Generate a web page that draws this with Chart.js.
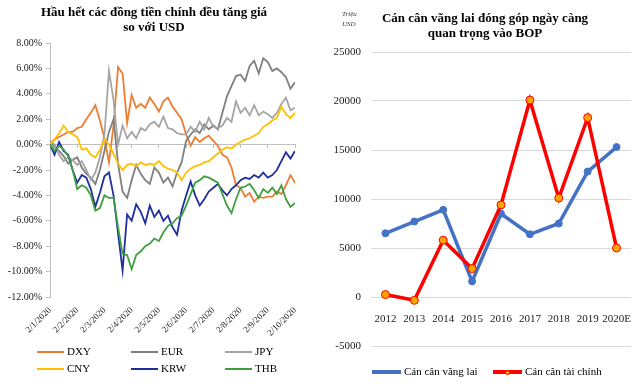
<!DOCTYPE html>
<html><head><meta charset="utf-8">
<script src="https://cdn.jsdelivr.net/npm/chart.js@4.4.1/dist/chart.umd.min.js"></script>
<style>
html,body{margin:0;padding:0;background:#fff;width:640px;height:388px;overflow:hidden;font-family:"Liberation Serif","Times New Roman",serif;}
canvas{position:absolute;top:0}
#c1{left:0}#c2{left:320px}
.title{position:absolute;font-weight:bold;font-size:13px;text-align:center;line-height:15px;color:#000;white-space:nowrap}
.unit{position:absolute;font-style:italic;font-size:7px;line-height:10px;left:342px;top:9px;color:#333}
.leg{position:absolute;font-size:11px;line-height:12px;color:#000;white-space:nowrap}
.sw{position:absolute;}
.dot{position:absolute;border-radius:50%}
</style></head>
<body>
<canvas id="c1" width="320" height="388"></canvas>
<canvas id="c2" width="320" height="388"></canvas>
<div class="title" id="t1" style="left:0;width:308px;top:4px">Hầu hết các đồng tiền chính đều tăng giá<br>so với USD</div>
<div class="title" id="t2" style="left:330px;width:310px;top:10px">Cán cân vãng lai đóng góp ngày càng<br>quan trọng vào BOP</div>
<div class="unit">Triệu<br>USD</div>
<div id="legends"></div>
<script>
// ---- Left chart data (% change vs USD), sampled 6 times per month from 2/1/2020 ----
const tickLabels = ['2/1/2020','2/2/2020','2/3/2020','2/4/2020','2/5/2020','2/6/2020','2/7/2020','2/8/2020','2/9/2020','2/10/2020'];
const samplesPerMonth = 6;
const DXY = [0.0,0.4,0.6,0.8,1.0,1.0,1.3,1.4,2.0,2.5,3.1,1.9,0.5,-1.4,1.5,6.1,5.6,1.7,3.9,2.9,3.2,2.9,3.7,3.2,2.6,3.4,3.7,3.0,2.5,2.0,0.8,-0.1,0.6,0.2,0.5,0.7,0.3,-0.1,-0.8,-1.0,-1.8,-3.2,-3.4,-4.1,-3.8,-4.5,-4.1,-4.2,-4.1,-4.1,-3.7,-3.9,-3.2,-2.4,-3.0];
const EUR = [0.3,-0.2,-0.5,-0.9,-1.5,-1.2,-1.0,-1.8,-2.3,-2.6,-3.1,-2.0,-0.5,1.0,2.0,-1.5,-3.7,-4.2,-2.8,-1.6,-2.3,-2.8,-3.1,-1.8,-2.2,-3.0,-2.6,-3.3,-2.2,-1.4,0.3,0.8,1.2,0.9,1.6,1.2,1.5,1.2,2.5,3.8,4.6,5.4,5.5,5.0,6.2,6.6,5.6,6.8,6.5,5.8,6.0,5.7,5.3,4.4,4.9];
const JPY = [0.3,0.0,-0.8,-1.3,-1.0,-1.2,-1.6,-1.3,-2.0,-2.8,-2.2,-1.0,0.8,5.8,3.5,0.0,1.5,0.5,1.0,0.5,1.3,1.1,1.6,1.8,1.4,2.2,1.3,1.2,0.9,0.8,0.8,1.4,1.0,1.8,1.2,2.1,1.4,1.3,1.5,2.1,1.8,3.4,2.5,2.9,2.3,3.1,2.3,2.6,2.4,2.1,2.5,3.2,3.7,2.7,2.9];
const CNY = [0.0,0.4,0.9,1.5,1.0,0.8,0.6,-0.4,-0.3,-0.8,-1.0,-0.4,0.4,0.0,-0.7,-1.5,-2.0,-1.6,-1.5,-1.7,-1.4,-1.6,-1.5,-1.6,-1.3,-1.7,-1.9,-2.0,-2.2,-2.8,-2.2,-1.9,-1.7,-1.6,-1.4,-1.3,-1.0,-0.7,-0.4,-0.2,-0.3,0.0,0.2,0.4,0.5,0.7,0.9,1.4,1.6,1.9,2.1,3.0,2.4,2.1,2.5];
const KRW = [0.0,-0.8,0.2,-0.5,-0.8,-2.0,-3.0,-2.4,-2.6,-3.5,-4.9,-3.8,-2.5,-2.2,-4.0,-7.0,-9.9,-5.5,-6.0,-4.7,-5.3,-6.2,-4.8,-5.7,-5.2,-6.0,-5.6,-6.5,-7.1,-5.2,-4.0,-2.9,-4.0,-4.8,-4.3,-3.7,-3.4,-3.1,-3.6,-4.0,-3.5,-3.2,-2.8,-2.6,-2.7,-2.4,-2.6,-2.2,-2.6,-2.4,-2.0,-1.3,-0.6,-1.1,-0.5];
const THB = [0.0,-0.5,-0.1,-0.4,-0.9,-2.0,-3.5,-3.2,-3.4,-4.0,-5.2,-5.0,-4.0,-4.2,-4.2,-6.5,-8.6,-8.7,-9.8,-8.7,-8.4,-8.0,-7.8,-7.4,-7.6,-6.9,-6.4,-6.2,-5.8,-5.6,-4.8,-3.9,-3.0,-2.8,-2.5,-2.6,-2.8,-3.0,-3.9,-4.8,-5.4,-4.3,-3.4,-3.3,-3.1,-3.6,-4.2,-3.5,-3.8,-3.4,-3.9,-3.2,-4.3,-4.9,-4.6];
const fxNames = ['DXY','EUR','JPY','CNY','KRW','THB'];
const fxColors = ['#ED7D31','#7F7F7F','#A5A5A5','#FFC000','#1F2F9C','#3F9F3F'];
const yTicksLeft = {min:-12, max:8, step:2};

// ---- Right chart data (million USD) ----
const years = ['2012','2013','2014','2015','2016','2017','2018','2019','2020E'];
const currentAccount = [6500,7700,8900,1600,8500,6400,7500,12800,15300];
const financialAccount = [250,-340,5800,2900,9400,20100,10100,18300,5000];
const bopNames = ['Cán cân vãng lai','Cán cân tài chính'];
const bopColors = ['#4472C4','#FF0000'];
const bopMarker = ['#4472C4','#FFA500'];

const serif = 'Liberation Serif';
const fxSeries = [DXY,EUR,JPY,CNY,KRW,THB];

new Chart(document.getElementById('c1'), {
  type:'line',
  data:{datasets: fxSeries.map((s,k)=>({
    label:fxNames[k],
    data:s.map((v,i)=>({x:i/samplesPerMonth,y:v})),
    borderColor:fxColors[k], borderWidth:1.8, pointRadius:0, tension:0, order:6-k, fill:false
  }))},
  options:{
    responsive:false, animation:false, events:[],
    plugins:{legend:{display:false},tooltip:{enabled:false}},
    layout:{padding:{top:43,right:25,left:0,bottom:0}},
    scales:{
      x:{type:'linear',min:0,max:tickLabels.length-1,position:'bottom',
        afterFit(s){s.height=91;},
        grid:{display:false}, border:{display:false},
        ticks:{stepSize:1,autoSkip:false,minRotation:45,maxRotation:45,padding:0,color:'#222',
          font:{family:serif,size:9},callback:(v)=>tickLabels[Math.round(v)]}},
      x2:{type:'linear',axis:'x',min:0,max:tickLabels.length-1,position:{y:0},
        grid:{drawOnChartArea:false,drawTicks:true,tickLength:3,color:'#bfbfbf'},
        border:{color:'#bfbfbf',width:1},
        ticks:{stepSize:1,display:false}},
      y:{min:yTicksLeft.min,max:yTicksLeft.max,
        afterFit(s){s.width=50;},
        ticks:{stepSize:yTicksLeft.step,color:'#222',padding:4,font:{family:serif,size:10},callback:v=>v.toFixed(2)+'%'},
        grid:{drawOnChartArea:false,drawTicks:true,tickLength:4,color:'#bfbfbf'},
        border:{color:'#bfbfbf'}}
    }
  }
});

new Chart(document.getElementById('c2'), {
  type:'line',
  data:{labels:years,datasets:[currentAccount,financialAccount].map((s,k)=>({
    label:bopNames[k], data:s, borderColor:bopColors[k], backgroundColor:bopMarker[k],
    borderWidth:3.5, pointRadius:k?4:3.5, pointBackgroundColor:bopMarker[k], pointBorderColor:bopColors[k],
    pointBorderWidth:1, tension:0, order:1-k, fill:false
  }))},
  options:{
    responsive:false, animation:false, events:[],
    plugins:{legend:{display:false},tooltip:{enabled:false}},
    layout:{padding:{top:52,right:9,bottom:42,left:0}},
    scales:{
      x:{type:'category',offset:true,position:{y:0},
        grid:{display:false},border:{display:false},
        ticks:{color:'#222',padding:8,maxRotation:0,autoSkip:false,font:{family:serif,size:11}}},
      y:{min:-5000,max:25000,
        afterFit(s){s.width=51;},
        ticks:{stepSize:5000,padding:10,color:'#222',font:{family:serif,size:11},callback:v=>String(v)},
        grid:{color:'#d9d9d9',drawTicks:false},border:{display:false}}
    }
  }
});

// ---- HTML legends ----
const L = document.getElementById('legends');
function addLeg(x,y,w,color,text,thick,dotColor,dotR){
  const sw=document.createElement('div');sw.className='sw';
  sw.style.cssText=`left:${x}px;top:${y-thick/2}px;width:${w}px;height:${thick}px;background:${color}`;
  L.appendChild(sw);
  if(dotColor){const d=document.createElement('div');d.className='dot';
    d.style.cssText=`left:${x+w/2-dotR}px;top:${y-dotR}px;width:${dotR*2-2}px;height:${dotR*2-2}px;background:${dotColor};border:1px solid ${color}`;L.appendChild(d);}
  const t=document.createElement('div');t.className='leg';t.textContent=text;
  t.style.cssText=`left:${x+w+3}px;top:${y-7}px`;L.appendChild(t);
}
const legCols=[37,131,225], legRows=[352,369];
fxNames.forEach((n,k)=>addLeg(legCols[k%3],legRows[Math.floor(k/3)],27,fxColors[k],n,2,null,0));
addLeg(372,372,29,bopColors[0],bopNames[0],4,bopMarker[0],2);
addLeg(493,372,29,bopColors[1],bopNames[1],4,bopMarker[1],2.5);
</script>
</body></html>
